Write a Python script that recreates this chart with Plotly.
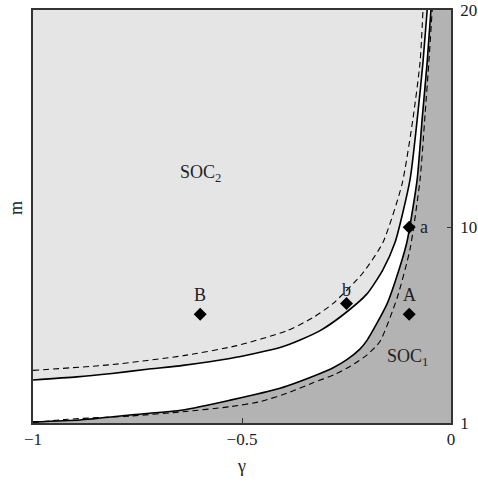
import plotly.graph_objects as go

# Boundary curves (gamma, m)
upper_solid_x = [-1.0, -0.895, -0.811, -0.727, -0.641, -0.529, -0.409, -0.361, -0.313, -0.258,
                 -0.201, -0.163, -0.134, -0.098, -0.079, -0.067, -0.057]
upper_solid_y = [2.98, 3.12, 3.28, 3.47, 3.65, 3.97, 4.47, 4.82, 5.25, 5.98,
                 6.94, 8.05, 9.3, 12.2, 15.3, 17.6, 20.0]

upper_dash_x = [-1.0, -0.809, -0.640, -0.512, -0.392, -0.330, -0.282, -0.211, -0.163,
                -0.117, -0.091, -0.074, -0.067]
upper_dash_y = [3.42, 3.69, 4.1, 4.56, 5.25, 5.85, 6.5, 7.9, 9.3,
                12.0, 15.0, 17.6, 20.0]

lower_solid_x = [-1.0, -0.888, -0.768, -0.641, -0.529, -0.409, -0.313, -0.282, -0.250, -0.218,
                 -0.201, -0.153, -0.122, -0.105, -0.081, -0.069, -0.057, -0.048]
lower_solid_y = [1.05, 1.14, 1.37, 1.6, 2.05, 2.6, 3.28, 3.54, 3.9, 4.4,
                 4.8, 6.48, 8.2, 9.36, 12.2, 15.0, 17.6, 20.0]

lower_dash_x = [-1.0, -0.919, -0.768, -0.641, -0.529, -0.457, -0.385, -0.330, -0.280, -0.240,
                -0.200, -0.170, -0.129, -0.098, -0.074, -0.062, -0.053, -0.045]
lower_dash_y = [1.02, 1.17, 1.32, 1.52, 1.75, 1.98, 2.42, 2.85, 3.22, 3.62,
                4.15, 4.75, 6.75, 9.0, 12.2, 15.2, 17.6, 20.0]

# Points
pt_labels = ["B", "A", "b", "a"]
pt_x = [-0.6, -0.1, -0.25, -0.1]
pt_y = [6.0, 6.0, 6.5, 10.0]

x_range = [-1, 0]
y_range = [1, 20]
x_ticks = [-1, -0.5, 0]
x_ticktext = ["\u22121", "\u22120.5", "0"]
y_ticks = [1, 10, 20]

LIGHT = "#e5e5e5"
DARK = "#b3b3b3"
FONT = "Liberation Serif"
SHAPE = dict(shape="spline", smoothing=0.6)

fig = go.Figure()

# white band between the two solid curves
fig.add_trace(go.Scatter(
    x=upper_solid_x + lower_solid_x[::-1],
    y=upper_solid_y + lower_solid_y[::-1],
    fill="toself", fillcolor="white", line=dict(width=0, **SHAPE),
    mode="lines", hoverinfo="skip", showlegend=False))

# dark region (SOC1) below/right of lower solid curve
fig.add_trace(go.Scatter(
    x=lower_solid_x + [x_range[1], x_range[1], x_range[0]],
    y=lower_solid_y + [y_range[1], y_range[0], y_range[0]],
    fill="toself", fillcolor=DARK, line=dict(width=0),
    mode="lines", hoverinfo="skip", showlegend=False))

for xs, ys, dash, w in [(upper_dash_x, upper_dash_y, "6px,4px", 1.1),
                        (lower_dash_x, lower_dash_y, "6px,4px", 1.1),
                        (upper_solid_x, upper_solid_y, "solid", 1.6),
                        (lower_solid_x, lower_solid_y, "solid", 1.6)]:
    fig.add_trace(go.Scatter(x=xs, y=ys, mode="lines",
                             line=dict(color="black", width=w, dash=dash, **SHAPE),
                             hoverinfo="skip", showlegend=False))

fig.add_trace(go.Scatter(x=pt_x, y=pt_y, mode="markers",
                         marker=dict(symbol="diamond", size=10, color="black"),
                         showlegend=False, hoverinfo="skip"))

tf = dict(family=FONT, size=18, color="#222")
# point labels
fig.add_annotation(x=pt_x[0], y=pt_y[0], text=pt_labels[0], showarrow=False, yshift=19, font=tf)
fig.add_annotation(x=pt_x[1], y=pt_y[1], text=pt_labels[1], showarrow=False, yshift=19, font=tf)
fig.add_annotation(x=pt_x[2], y=pt_y[2], text=pt_labels[2], showarrow=False, yshift=13, font=tf)
fig.add_annotation(x=pt_x[3], y=pt_y[3], text=pt_labels[3], showarrow=False, xshift=15, font=tf)
fig.add_annotation(x=-0.6, y=12.5, text="SOC<sub>2</sub>", showarrow=False, font=tf)
fig.add_annotation(x=-0.103, y=4.0, text="SOC<sub>1</sub>", showarrow=False, font=tf)

# axis titles
fig.add_annotation(xref="paper", yref="paper", x=-0.041, y=0.52, text="m", textangle=-90,
                   showarrow=False, xanchor="center", yanchor="middle", font=dict(family=FONT, size=18, color="#222"))
fig.add_annotation(xref="paper", yref="paper", x=0.498, y=-0.105, text="\u03b3",
                   showarrow=False, xanchor="center", yanchor="middle", font=dict(family=FONT, size=18, color="#222"))

axis_common = dict(showline=True, linecolor="#333", linewidth=1.5, mirror=True,
                   showgrid=False, zeroline=False, ticks="inside", tickcolor="#333",
                   automargin=False, ticklabeloverflow="allow",
                   tickfont=dict(family=FONT, size=17, color="#222"))

fig.update_layout(
    width=478, height=484,
    margin=dict(l=33, r=27, t=10, b=61),
    paper_bgcolor="white", plot_bgcolor=LIGHT,
    xaxis=dict(range=x_range, tickvals=x_ticks, ticktext=x_ticktext, ticklen=5, **axis_common),
    yaxis=dict(range=y_range, tickvals=y_ticks, side="right", ticklen=4, ticklabelstandoff=4, **axis_common),
)

fig.write_html("out.html", config={"displayModeBar": False},
               post_script="document.body.style.margin='0';document.body.style.overflow='hidden';")
